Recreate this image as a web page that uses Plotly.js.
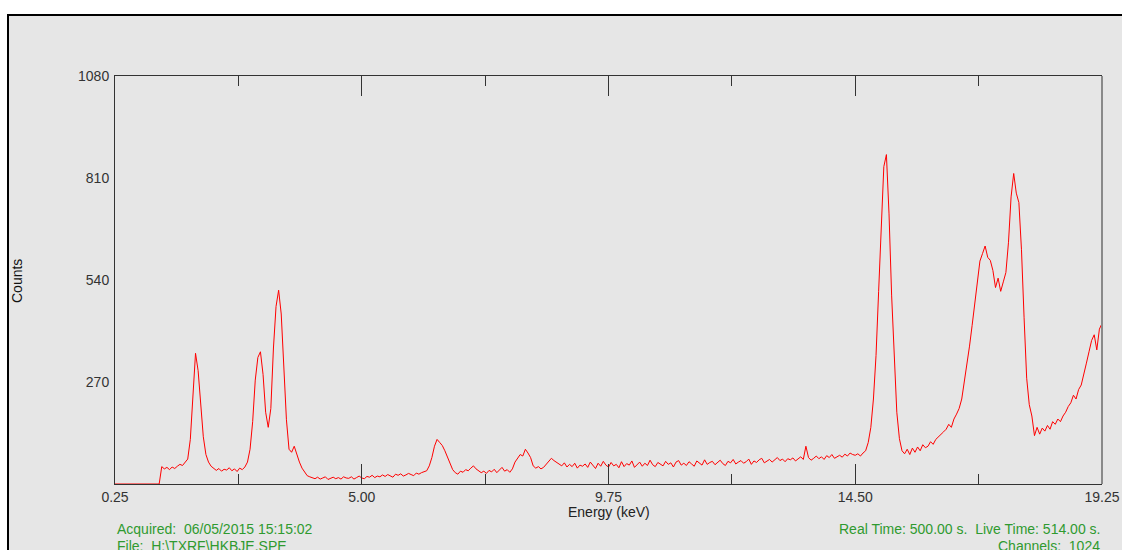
<!DOCTYPE html>
<html>
<head>
<meta charset="utf-8">
<script src="https://cdn.plot.ly/plotly-3.0.1.min.js"></script>
<style>
  html, body { margin: 0; padding: 0; background: #ffffff; }
  #chart { width: 1122px; height: 550px; }
</style>
</head>
<body>
<div id="chart"></div>
<script>
// ---- Spectrum data (counts per channel, channels every 0.05 keV from 0.25 keV) ----
const energyStart = 0.25;
const energyStep = 0.05;

// 0.25 - 1.10 keV
const countsBelowThreshold = [0,0,0,0,0,0,0,0,0,0,0,0,0,0,0,0,0,0];
// 1.15 - 4.00 keV
const countsLowPeaks = [46,40,44,38,45,41,47,52,49,58,66,
  118,240,346,300,205,125,78,58,
  47,42,36,41,34,39,37,43,35,40,33,42,38,45,
  58,92,165,275,335,350,290,190,150,200,360,470,513,450,310,170,92,84,100,78,58,42,32,22,19];
// 4.05 - 6.20 keV
const countsValley = [17,14,18,13,16,19,12,15,18,14,17,13,19,16,
  15,19,13,17,21,16,14,20,18,23,17,21,19,24,
  20,25,22,18,26,23,27,21,24,28,25,22,29,26,30,33];
// 6.25 - 9.25 keV
const countsMidPeaks = [35,48,70,100,118,110,102,88,70,52,38,30,26,
  34,31,38,35,42,48,40,36,30,34,28,36,32,39,30,37,44,34,38,31,40,
  58,70,78,74,92,82,70,48,42,46,40,44,52,60,68,62,57,54,48,56,45,52,46,55,42,50,47];
// 9.30 - 14.45 keV
const countsPlateau = [53,44,58,49,41,55,47,60,50,45,
  57,48,52,43,59,46,54,50,61,44,
  52,58,47,55,49,63,51,46,57,53,
  48,60,52,56,45,58,62,50,55,49,
  59,53,47,61,55,50,64,52,57,60,
  51,58,63,54,49,60,56,65,53,58,
  62,55,59,66,52,61,57,64,68,56,
  60,65,58,63,70,62,66,59,67,64,
  69,61,66,72,65,100,70,63,68,74,
  67,72,65,75,70,78,68,73,76,71,
  79,74,82,78];
// 14.50 - 19.25 keV
const countsHighPeaks = [76,80,74,82,88,110,150,225,340,510,670,840,872,715,500,320,190,120,88,80,
  92,78,95,84,98,88,104,96,100,112,105,118,124,130,138,145,158,150,172,185,
  200,225,270,320,365,420,480,545,590,610,630,600,592,565,520,545,510,535,560,640,
  760,822,770,745,620,440,280,210,180,128,150,132,148,140,155,145,165,158,172,165,
  180,190,205,215,235,225,250,262,295,320,350,380,395,355,410,425];

const counts = [].concat(countsBelowThreshold, countsLowPeaks, countsValley,
                         countsMidPeaks, countsPlateau, countsHighPeaks);
const energy = counts.map((_, i) => Math.round((energyStart + energyStep * i) * 100) / 100);

const xTickVals = [0.25, 5.00, 9.75, 14.50, 19.25];
const xTickText = ['0.25', '5.00', '9.75', '14.50', '19.25'];
const xMinorVals = [2.625, 7.375, 12.125, 16.875];
const yTickVals = [270, 540, 810, 1080];
const yTickText = ['270', '540', '810', '1080'];

const infoLeft = ['Acquired:  06/05/2015 15:15:02', 'File:  H:\\TXRF\\HKBJE.SPE'];
const infoRight = ['Real Time: 500.00 s.  Live Time: 514.00 s.', 'Channels:  1024'];

// ---- layout helpers (pixel -> paper) ----
const L = 115, R = 1102, T = 76, B = 484;
const px = x => (x - L) / (R - L);
const py = y => (B - y) / (B - T);

const green = '#2f9a2f';
const font = 'Liberation Sans, Arial, sans-serif';

const trace = {
  x: energy, y: counts, type: 'scatter', mode: 'lines',
  line: { color: '#ff0000', width: 1 }, hoverinfo: 'x+y'
};

const layout = {
  width: 1122, height: 550,
  margin: { l: L, r: 1122 - R, t: T, b: 550 - B },
  paper_bgcolor: '#ffffff',
  plot_bgcolor: 'rgba(0,0,0,0)',
  showlegend: false,
  font: { family: font, size: 14, color: '#333333' },
  xaxis: {
    range: [0.25, 19.25], tickmode: 'array', tickvals: xTickVals, ticktext: xTickText,
    ticks: 'inside', ticklen: 20, tickwidth: 1, tickcolor: '#333333',
    showline: true, linecolor: '#333333', linewidth: 1, mirror: 'ticks',
    showgrid: false, zeroline: false, fixedrange: true,
    tickfont: { family: font, size: 14, color: '#333333' },
    minor: { tickmode: 'array', tickvals: xMinorVals, ticks: 'inside', ticklen: 10, tickcolor: '#333333', showgrid: false }
  },
  yaxis: {
    range: [0, 1080], tickmode: 'array', tickvals: yTickVals, ticktext: yTickText,
    ticks: '', showline: true, linecolor: '#333333', linewidth: 1, mirror: false,
    showgrid: false, zeroline: false, fixedrange: true, ticklabelstandoff: 2,
    tickfont: { family: font, size: 14, color: '#333333' }
  },
  shapes: [
    { type: 'rect', xref: 'paper', yref: 'paper', layer: 'below',
      x0: px(8), x1: px(1135), y0: py(565), y1: py(15),
      line: { color: '#000000', width: 2 }, fillcolor: '#e6e6e6' },
    { type: 'line', xref: 'paper', yref: 'paper', layer: 'above',
      x0: px(1102), x1: px(1102), y0: 0, y1: 1,
      line: { color: '#8a8a8a', width: 2 } }
  ],
  annotations: [
    { text: 'Energy (keV)', xref: 'paper', yref: 'paper', x: 0.5, y: py(512),
      xanchor: 'center', yanchor: 'middle', showarrow: false,
      font: { family: font, size: 14, color: '#222222' } },
    { text: 'Counts', xref: 'paper', yref: 'paper', x: px(17), y: py(281),
      xanchor: 'center', yanchor: 'middle', showarrow: false, textangle: -90,
      font: { family: font, size: 14, color: '#111111' } },
    { text: infoLeft[0], xref: 'paper', yref: 'paper', x: 0, y: py(529),
      xanchor: 'left', yanchor: 'middle', showarrow: false,
      font: { family: font, size: 14, color: green } },
    { text: infoLeft[1], xref: 'paper', yref: 'paper', x: 0, y: py(546),
      xanchor: 'left', yanchor: 'middle', showarrow: false,
      font: { family: font, size: 14, color: green } },
    { text: infoRight[0], xref: 'paper', yref: 'paper', x: 1, y: py(529),
      xanchor: 'right', yanchor: 'middle', showarrow: false,
      font: { family: font, size: 14, color: green } },
    { text: infoRight[1], xref: 'paper', yref: 'paper', x: 1, y: py(546),
      xanchor: 'right', yanchor: 'middle', showarrow: false,
      font: { family: font, size: 14, color: green } }
  ]
};

Plotly.newPlot('chart', [trace], layout, { displayModeBar: false, staticPlot: true });
</script>
</body>
</html>
